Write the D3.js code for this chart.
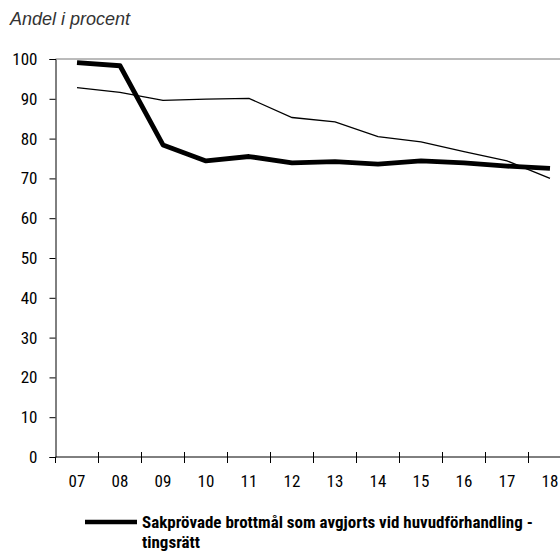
<!DOCTYPE html>
<html>
<head>
  <meta charset="utf-8">
  <script src="https://cdn.jsdelivr.net/npm/d3@7"></script>
  <style>
    body { margin: 0; background: #fff; }
    svg text { font-family: "Roboto Condensed", "Liberation Sans", sans-serif; }
  </style>
</head>
<body>
  <script type="text/javascript">
    // chart values
    var years = ["07","08","09","10","11","12","13","14","15","16","17","18"];
    var huvudforhandling = [99.1, 98.3, 78.4, 74.4, 75.5, 73.9, 74.2, 73.6, 74.4, 73.9, 73.1, 72.5];
    var jamforelse = [92.8, 91.6, 89.6, 89.9, 90.1, 85.3, 84.2, 80.5, 79.2, 76.7, 74.4, 70.0];
    var yTicks = [0, 10, 20, 30, 40, 50, 60, 70, 80, 90, 100];
    var legendLines = ["Sakprövade brottmål som avgjorts vid huvudförhandling -", "tingsrätt"];

    var width = 560, height = 552;
    var plotLeft = 55.5, plotRight = 571.5, plotTop = 59, plotBottom = 457;

    var svg = d3.select("body").append("svg")
        .attr("width", width)
        .attr("height", height);

    var x = d3.scaleBand().domain(years).range([plotLeft, plotRight]);
    var y = d3.scaleLinear().domain([0, 100]).range([plotBottom, plotTop]);

    // title
    svg.append("text")
        .attr("x", 10).attr("y", 25)
        .style("font-family", "'Liberation Sans', Arial, sans-serif")
        .attr("font-style", "italic")
        .attr("font-size", 18)
        .attr("fill", "#333")
        .text("Andel i procent");

    // top frame line
    svg.append("line")
        .attr("x1", plotLeft).attr("x2", width)
        .attr("y1", y(100)).attr("y2", y(100))
        .attr("stroke", "#777").attr("stroke-width", 1);

    // y axis
    var yAxis = d3.axisLeft(y).tickValues(yTicks).tickSize(6).tickPadding(12);
    var gy = svg.append("g").attr("transform", "translate(" + plotLeft + ",0)").call(yAxis);
    gy.select(".domain").attr("stroke", "#000");
    gy.selectAll("text").attr("font-size", 17).attr("fill", "#000")
        .style("font-family", "'Roboto Condensed', sans-serif");

    // x axis: ticks at category boundaries, crossing the axis line
    svg.append("line")
        .attr("x1", plotLeft).attr("x2", width)
        .attr("y1", plotBottom).attr("y2", plotBottom)
        .attr("stroke", "#000");
    var bounds = years.map(function(d) { return x(d); });
    svg.selectAll(".xtick").data(bounds).enter().append("line")
        .attr("class", "xtick")
        .attr("x1", function(d) { return d; }).attr("x2", function(d) { return d; })
        .attr("y1", function(d, i) { return i === 0 ? plotBottom : plotBottom - 5; })
        .attr("y2", plotBottom + 6)
        .attr("stroke", "#000");
    svg.selectAll(".xlabel").data(years).enter().append("text")
        .attr("class", "xlabel")
        .attr("x", function(d) { return x(d) + x.bandwidth() / 2; })
        .attr("y", plotBottom + 30)
        .attr("text-anchor", "middle")
        .attr("font-size", 17)
        .text(function(d) { return d; });

    var line = d3.line()
        .x(function(d, i) { return x(years[i]) + x.bandwidth() / 2; })
        .y(function(d) { return y(d); });

    svg.append("path").datum(jamforelse)
        .attr("d", line)
        .attr("fill", "none").attr("stroke", "#000").attr("stroke-width", 1.3);

    svg.append("path").datum(huvudforhandling)
        .attr("d", line)
        .attr("fill", "none").attr("stroke", "#000").attr("stroke-width", 4.8)
        .attr("stroke-linejoin", "round");

    // legend
    svg.append("line")
        .attr("x1", 85).attr("x2", 137)
        .attr("y1", 522).attr("y2", 522)
        .attr("stroke", "#000").attr("stroke-width", 4.5);
    svg.selectAll(".legend").data(legendLines).enter().append("text")
        .attr("class", "legend")
        .attr("x", 142)
        .attr("y", function(d, i) { return 528 + i * 20; })
        .attr("font-size", 17)
        .attr("font-weight", "bold")
        .text(function(d) { return d; });
  </script>
</body>
</html>
